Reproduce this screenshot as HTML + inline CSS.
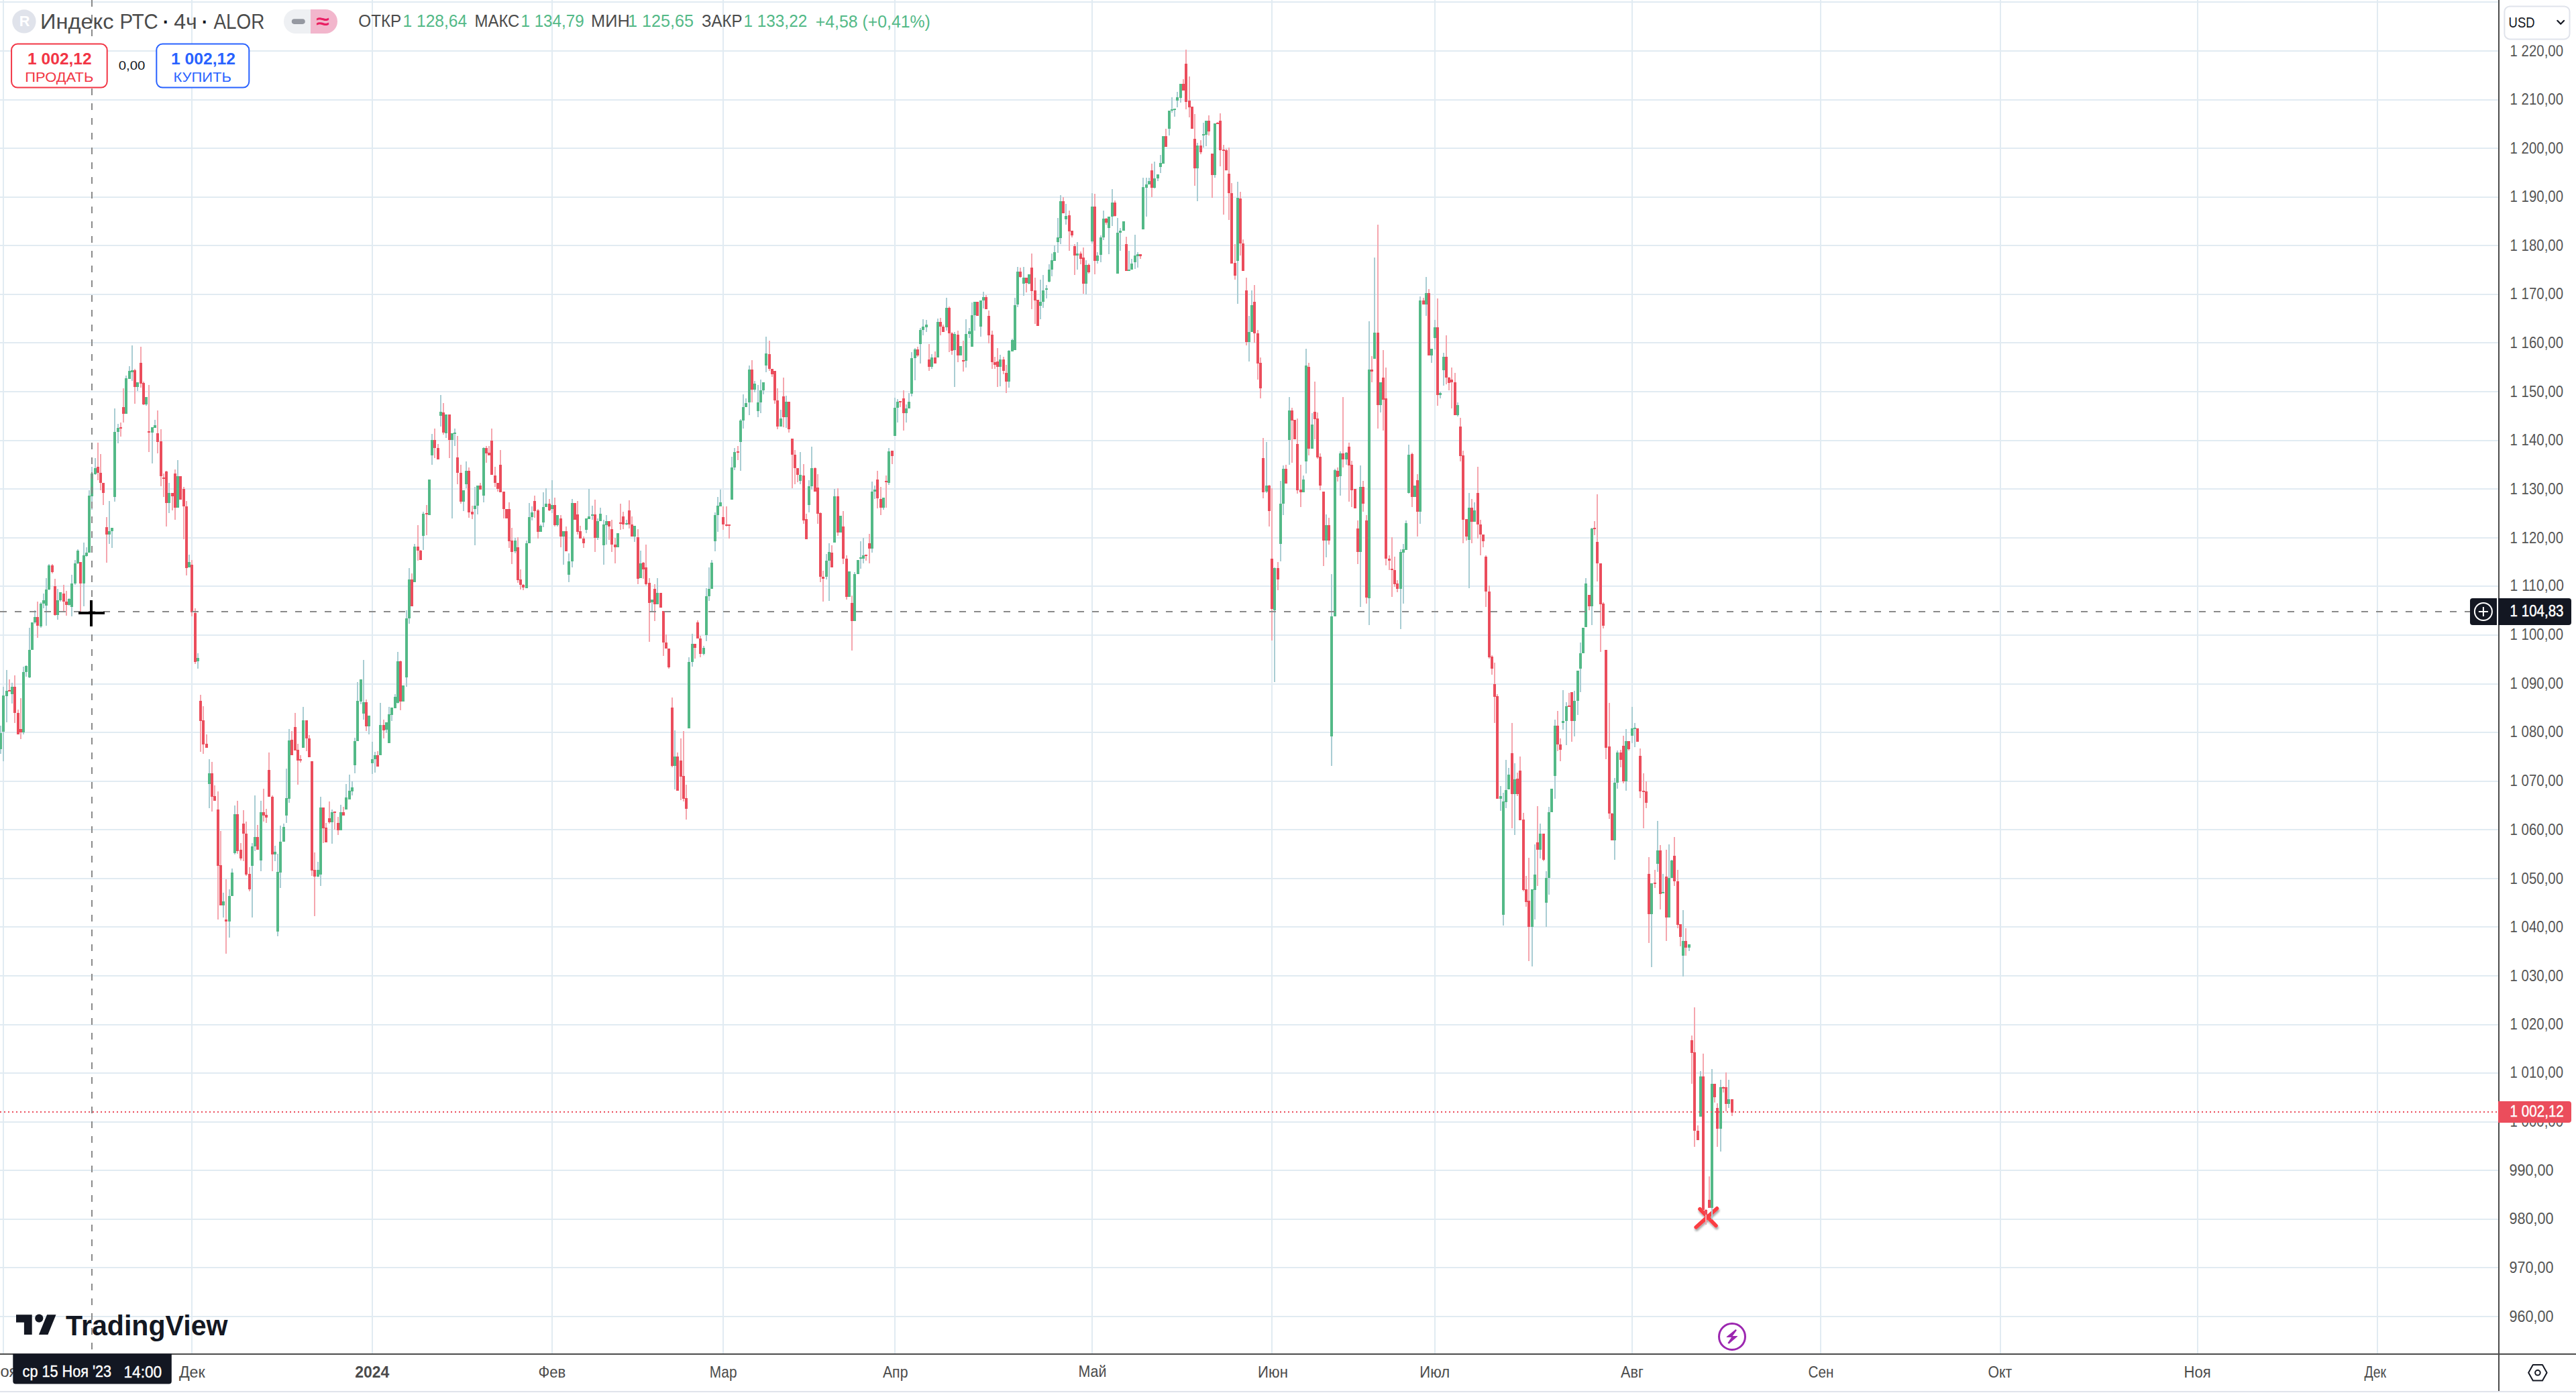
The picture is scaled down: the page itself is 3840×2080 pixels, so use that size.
<!DOCTYPE html>
<html><head><meta charset="utf-8"><style>
html,body{margin:0;padding:0;background:#fff;}
body{width:3840px;height:2080px;overflow:hidden;position:relative;}
svg{position:absolute;left:0;top:0;}
text{font-family:'Liberation Sans', Arial, sans-serif;}
</style></head><body>
<svg width="3840" height="2080" viewBox="0 0 3840 2080" shape-rendering="crispEdges">
<rect x="0" y="1962" width="3724" height="2" fill="#e1ebf2"/>
<rect x="0" y="1889" width="3724" height="2" fill="#e1ebf2"/>
<rect x="0" y="1817" width="3724" height="2" fill="#e1ebf2"/>
<rect x="0" y="1744" width="3724" height="2" fill="#e1ebf2"/>
<rect x="0" y="1672" width="3724" height="2" fill="#e1ebf2"/>
<rect x="0" y="1599" width="3724" height="2" fill="#e1ebf2"/>
<rect x="0" y="1527" width="3724" height="2" fill="#e1ebf2"/>
<rect x="0" y="1454" width="3724" height="2" fill="#e1ebf2"/>
<rect x="0" y="1381" width="3724" height="2" fill="#e1ebf2"/>
<rect x="0" y="1309" width="3724" height="2" fill="#e1ebf2"/>
<rect x="0" y="1236" width="3724" height="2" fill="#e1ebf2"/>
<rect x="0" y="1164" width="3724" height="2" fill="#e1ebf2"/>
<rect x="0" y="1091" width="3724" height="2" fill="#e1ebf2"/>
<rect x="0" y="1019" width="3724" height="2" fill="#e1ebf2"/>
<rect x="0" y="946" width="3724" height="2" fill="#e1ebf2"/>
<rect x="0" y="873" width="3724" height="2" fill="#e1ebf2"/>
<rect x="0" y="801" width="3724" height="2" fill="#e1ebf2"/>
<rect x="0" y="728" width="3724" height="2" fill="#e1ebf2"/>
<rect x="0" y="656" width="3724" height="2" fill="#e1ebf2"/>
<rect x="0" y="583" width="3724" height="2" fill="#e1ebf2"/>
<rect x="0" y="510" width="3724" height="2" fill="#e1ebf2"/>
<rect x="0" y="438" width="3724" height="2" fill="#e1ebf2"/>
<rect x="0" y="365" width="3724" height="2" fill="#e1ebf2"/>
<rect x="0" y="293" width="3724" height="2" fill="#e1ebf2"/>
<rect x="0" y="220" width="3724" height="2" fill="#e1ebf2"/>
<rect x="0" y="148" width="3724" height="2" fill="#e1ebf2"/>
<rect x="0" y="75" width="3724" height="2" fill="#e1ebf2"/>
<rect x="0" y="2" width="3724" height="2" fill="#e1ebf2"/>
<rect x="4" y="0" width="2" height="2018" fill="#e1ebf2"/>
<rect x="285" y="0" width="2" height="2018" fill="#e1ebf2"/>
<rect x="554" y="0" width="2" height="2018" fill="#e1ebf2"/>
<rect x="822" y="0" width="2" height="2018" fill="#e1ebf2"/>
<rect x="1077" y="0" width="2" height="2018" fill="#e1ebf2"/>
<rect x="1333" y="0" width="2" height="2018" fill="#e1ebf2"/>
<rect x="1627" y="0" width="2" height="2018" fill="#e1ebf2"/>
<rect x="1895" y="0" width="2" height="2018" fill="#e1ebf2"/>
<rect x="2138" y="0" width="2" height="2018" fill="#e1ebf2"/>
<rect x="2432" y="0" width="2" height="2018" fill="#e1ebf2"/>
<rect x="2713" y="0" width="2" height="2018" fill="#e1ebf2"/>
<rect x="2981" y="0" width="2" height="2018" fill="#e1ebf2"/>
<rect x="3275" y="0" width="2" height="2018" fill="#e1ebf2"/>
<rect x="3543" y="0" width="2" height="2018" fill="#e1ebf2"/>
<defs><filter id="xs" x="-50%" y="-50%" width="200%" height="200%"><feDropShadow dx="1" dy="3" stdDeviation="1.8" flood-color="#000" flood-opacity="0.35"/></filter></defs>
<g shape-rendering="auto" stroke-linecap="round" stroke-width="5.6" fill="none" stroke="#fb3c43" filter="url(#xs)"><line x1="2528.2" y1="1829.8" x2="2559.4" y2="1801.8"/><line x1="2534" y1="1802.7" x2="2558" y2="1827.6"/></g>
<path fill="#a9cdd3" d="M0 1082h2v42h-2zM4 1024h2v111h-2zM9 999h2v78h-2zM17 1018h2v31h-2zM34 994h2v101h-2zM38 992h2v17h-2zM43 936h2v75h-2zM47 928h2v41h-2zM51 910h2v20h-2zM60 898h2v38h-2zM64 885h2v22h-2zM68 862h2v71h-2zM72 841h2v39h-2zM85 878h2v46h-2zM89 883h2v14h-2zM102 892h2v11h-2zM106 857h2v62h-2zM111 835h2v37h-2zM115 819h2v22h-2zM124 809h2v95h-2zM128 816h2v14h-2zM132 731h2v93h-2zM136 696h2v64h-2zM141 683h2v25h-2zM162 747h2v64h-2zM166 787h2v30h-2zM170 609h2v139h-2zM175 632h2v29h-2zM187 560h2v57h-2zM192 546h2v19h-2zM196 515h2v53h-2zM204 570h2v13h-2zM217 592h2v13h-2zM226 637h2v54h-2zM230 626h2v12h-2zM251 720h2v45h-2zM264 686h2v71h-2zM281 827h2v19h-2zM294 974h2v23h-2zM311 1132h2v73h-2zM332 1331h2v37h-2zM341 1326h2v72h-2zM345 1295h2v41h-2zM349 1201h2v73h-2zM375 1257h2v111h-2zM379 1186h2v83h-2zM388 1194h2v105h-2zM409 1261h2v23h-2zM413 1273h2v123h-2zM417 1231h2v93h-2zM422 1228h2v27h-2zM426 1146h2v81h-2zM430 1087h2v110h-2zM451 1054h2v61h-2zM473 1285h2v23h-2zM477 1188h2v133h-2zM494 1207h2v51h-2zM507 1200h2v38h-2zM515 1169h2v38h-2zM520 1155h2v37h-2zM524 1165h2v21h-2zM528 1100h2v53h-2zM532 1017h2v88h-2zM537 1013h2v37h-2zM541 984h2v89h-2zM549 1067h2v28h-2zM554 1106h2v48h-2zM558 1121h2v31h-2zM566 1048h2v78h-2zM575 1077h2v16h-2zM579 1054h2v54h-2zM583 1055h2v20h-2zM588 1035h2v21h-2zM592 972h2v77h-2zM600 1022h2v24h-2zM605 910h2v114h-2zM609 847h2v83h-2zM617 811h2v57h-2zM630 763h2v57h-2zM639 715h2v53h-2zM643 647h2v46h-2zM656 589h2v47h-2zM664 618h2v35h-2zM673 646h2v127h-2zM677 639h2v26h-2zM690 731h2v31h-2zM694 688h2v40h-2zM707 726h2v87h-2zM711 724h2v43h-2zM720 667h2v82h-2zM767 802h2v23h-2zM784 806h2v71h-2zM788 750h2v60h-2zM792 755h2v21h-2zM805 782h2v11h-2zM809 734h2v52h-2zM813 728h2v28h-2zM822 716h2v49h-2zM830 768h2v17h-2zM839 792h2v50h-2zM847 825h2v43h-2zM852 744h2v102h-2zM873 773h2v22h-2zM877 729h2v45h-2zM882 754h2v21h-2zM890 773h2v32h-2zM894 757h2v20h-2zM899 775h2v67h-2zM903 768h2v44h-2zM920 795h2v21h-2zM933 775h2v8h-2zM945 784h2v24h-2zM954 821h2v41h-2zM971 894h2v17h-2zM979 862h2v39h-2zM1005 1089h2v88h-2zM1026 980h2v106h-2zM1031 945h2v49h-2zM1048 963h2v14h-2zM1052 877h2v79h-2zM1056 846h2v50h-2zM1060 835h2v43h-2zM1065 764h2v58h-2zM1069 741h2v52h-2zM1073 730h2v25h-2zM1090 681h2v64h-2zM1094 668h2v33h-2zM1103 625h2v77h-2zM1107 588h2v51h-2zM1111 594h2v13h-2zM1116 545h2v74h-2zM1124 568h2v17h-2zM1129 574h2v48h-2zM1133 566h2v50h-2zM1137 570h2v18h-2zM1141 502h2v53h-2zM1163 611h2v25h-2zM1171 590h2v48h-2zM1192 674h2v48h-2zM1205 716h2v48h-2zM1209 666h2v64h-2zM1231 826h2v38h-2zM1235 810h2v86h-2zM1243 729h2v80h-2zM1252 769h2v25h-2zM1265 852h2v38h-2zM1273 853h2v73h-2zM1278 835h2v21h-2zM1282 807h2v41h-2zM1286 802h2v38h-2zM1299 718h2v106h-2zM1303 724h2v20h-2zM1316 742h2v18h-2zM1324 668h2v55h-2zM1333 593h2v57h-2zM1337 595h2v35h-2zM1350 603h2v27h-2zM1354 586h2v23h-2zM1358 525h2v66h-2zM1363 519h2v48h-2zM1371 489h2v53h-2zM1375 476h2v24h-2zM1380 477h2v18h-2zM1388 528h2v22h-2zM1397 475h2v58h-2zM1410 444h2v49h-2zM1422 495h2v82h-2zM1431 516h2v14h-2zM1439 476h2v72h-2zM1444 489h2v15h-2zM1448 451h2v66h-2zM1452 450h2v43h-2zM1461 448h2v54h-2zM1465 435h2v25h-2zM1490 529h2v47h-2zM1503 522h2v56h-2zM1508 505h2v19h-2zM1512 444h2v78h-2zM1516 398h2v60h-2zM1525 398h2v43h-2zM1533 409h2v15h-2zM1550 417h2v59h-2zM1554 410h2v49h-2zM1559 425h2v20h-2zM1563 394h2v27h-2zM1567 378h2v34h-2zM1571 366h2v23h-2zM1576 325h2v52h-2zM1580 291h2v73h-2zM1588 304h2v31h-2zM1605 361h2v41h-2zM1618 388h2v51h-2zM1627 288h2v75h-2zM1635 376h2v17h-2zM1640 351h2v40h-2zM1644 314h2v44h-2zM1652 323h2v56h-2zM1657 282h2v55h-2zM1665 325h2v83h-2zM1669 340h2v34h-2zM1674 330h2v14h-2zM1682 374h2v30h-2zM1686 386h2v16h-2zM1691 350h2v51h-2zM1695 376h2v23h-2zM1703 265h2v77h-2zM1708 265h2v58h-2zM1712 265h2v10h-2zM1720 241h2v40h-2zM1725 260h2v10h-2zM1729 231h2v27h-2zM1733 203h2v41h-2zM1742 165h2v37h-2zM1746 145h2v23h-2zM1750 162h2v12h-2zM1754 137h2v23h-2zM1759 125h2v28h-2zM1784 213h2v87h-2zM1793 183h2v37h-2zM1797 180h2v38h-2zM1810 184h2v81h-2zM1844 271h2v182h-2zM1861 471h2v68h-2zM1865 433h2v62h-2zM1887 659h2v76h-2zM1899 846h2v171h-2zM1908 717h2v120h-2zM1912 694h2v74h-2zM1921 592h2v101h-2zM1942 709h2v25h-2zM1946 520h2v186h-2zM1955 616h2v53h-2zM1976 767h2v64h-2zM1984 856h2v286h-2zM1989 699h2v220h-2zM1997 673h2v66h-2zM2006 674h2v19h-2zM2027 694h2v211h-2zM2040 479h2v453h-2zM2048 384h2v151h-2zM2057 570h2v45h-2zM2087 819h2v119h-2zM2091 811h2v89h-2zM2095 776h2v44h-2zM2099 663h2v73h-2zM2108 724h2v17h-2zM2116 442h2v339h-2zM2125 413h2v58h-2zM2133 520h2v21h-2zM2138 477h2v44h-2zM2146 584h2v10h-2zM2151 526h2v49h-2zM2172 600h2v21h-2zM2189 735h2v142h-2zM2197 749h2v29h-2zM2236 1172h2v37h-2zM2240 1182h2v198h-2zM2244 1133h2v72h-2zM2248 1145h2v32h-2zM2257 1138h2v107h-2zM2283 1326h2v115h-2zM2287 1259h2v112h-2zM2295 1228h2v52h-2zM2304 1299h2v83h-2zM2308 1203h2v131h-2zM2312 1176h2v35h-2zM2317 1073h2v118h-2zM2329 1029h2v59h-2zM2334 1047h2v64h-2zM2346 1030h2v68h-2zM2351 1000h2v66h-2zM2355 958h2v74h-2zM2359 936h2v38h-2zM2363 862h2v73h-2zM2372 787h2v145h-2zM2406 1160h2v122h-2zM2410 1119h2v57h-2zM2423 1087h2v92h-2zM2432 1054h2v54h-2zM2436 1078h2v36h-2zM2461 1317h2v125h-2zM2470 1224h2v76h-2zM2478 1303h2v29h-2zM2487 1259h2v109h-2zM2491 1282h2v27h-2zM2508 1357h2v99h-2zM2517 1408h2v10h-2zM2534 1597h2v68h-2zM2551 1594h2v224h-2zM2564 1610h2v107h-2zM2576 1610h2v42h-2z"/>
<path fill="#f5a6ae" d="M13 1013h2v18h-2zM21 1007h2v71h-2zM26 1058h2v37h-2zM30 1041h2v61h-2zM55 897h2v54h-2zM77 841h2v14h-2zM81 863h2v55h-2zM94 872h2v40h-2zM98 881h2v37h-2zM119 838h2v75h-2zM145 660h2v56h-2zM149 677h2v54h-2zM153 720h2v33h-2zM158 771h2v68h-2zM179 630h2v21h-2zM183 579h2v51h-2zM200 550h2v52h-2zM209 517h2v61h-2zM213 569h2v35h-2zM221 574h2v100h-2zM234 612h2v64h-2zM239 640h2v85h-2zM243 706h2v35h-2zM247 702h2v83h-2zM256 735h2v26h-2zM260 700h2v75h-2zM268 710h2v35h-2zM273 726h2v78h-2zM277 747h2v111h-2zM285 835h2v84h-2zM290 907h2v83h-2zM298 1036h2v85h-2zM302 1053h2v71h-2zM307 1095h2v20h-2zM315 1136h2v74h-2zM319 1171h2v23h-2zM324 1180h2v191h-2zM328 1239h2v111h-2zM336 1311h2v111h-2zM353 1194h2v79h-2zM358 1257h2v26h-2zM362 1208h2v76h-2zM366 1225h2v81h-2zM371 1293h2v36h-2zM383 1230h2v37h-2zM392 1176h2v49h-2zM396 1206h2v21h-2zM400 1122h2v66h-2zM405 1186h2v113h-2zM434 1090h2v36h-2zM439 1063h2v56h-2zM443 1109h2v61h-2zM447 1126h2v11h-2zM456 1074h2v46h-2zM460 1096h2v33h-2zM464 1135h2v171h-2zM468 1271h2v95h-2zM481 1204h2v53h-2zM485 1227h2v29h-2zM490 1195h2v33h-2zM498 1210h2v27h-2zM503 1218h2v27h-2zM511 1203h2v13h-2zM545 1043h2v47h-2zM562 1120h2v23h-2zM571 1073h2v28h-2zM596 985h2v74h-2zM613 855h2v49h-2zM622 783h2v53h-2zM626 820h2v15h-2zM635 753h2v45h-2zM647 639h2v44h-2zM652 662h2v23h-2zM660 601h2v47h-2zM669 618h2v65h-2zM681 650h2v72h-2zM686 693h2v58h-2zM698 697h2v75h-2zM703 754h2v20h-2zM715 720h2v10h-2zM724 665h2v25h-2zM728 665h2v14h-2zM732 639h2v69h-2zM737 696h2v30h-2zM741 720h2v13h-2zM745 671h2v63h-2zM750 733h2v40h-2zM754 759h2v14h-2zM758 749h2v68h-2zM762 787h2v54h-2zM771 801h2v68h-2zM775 849h2v30h-2zM779 871h2v9h-2zM796 739h2v33h-2zM801 759h2v44h-2zM818 744h2v18h-2zM826 742h2v43h-2zM835 768h2v48h-2zM843 785h2v37h-2zM856 750h2v25h-2zM860 747h2v50h-2zM864 784h2v19h-2zM869 800h2v17h-2zM886 745h2v78h-2zM907 777h2v28h-2zM911 775h2v48h-2zM916 802h2v38h-2zM924 751h2v39h-2zM928 763h2v26h-2zM937 746h2v42h-2zM941 770h2v30h-2zM950 789h2v82h-2zM958 838h2v25h-2zM962 812h2v61h-2zM967 862h2v95h-2zM975 871h2v55h-2zM984 884h2v22h-2zM988 911h2v67h-2zM992 946h2v21h-2zM996 967h2v30h-2zM1001 1040h2v104h-2zM1009 1122h2v57h-2zM1014 1101h2v92h-2zM1018 1090h2v105h-2zM1022 1170h2v52h-2zM1035 960h2v22h-2zM1039 925h2v27h-2zM1043 948h2v32h-2zM1077 755h2v35h-2zM1082 755h2v30h-2zM1086 782h2v21h-2zM1099 665h2v21h-2zM1120 537h2v63h-2zM1146 508h2v45h-2zM1150 550h2v12h-2zM1154 553h2v49h-2zM1158 579h2v61h-2zM1167 563h2v74h-2zM1175 599h2v46h-2zM1180 654h2v74h-2zM1184 671h2v51h-2zM1188 698h2v21h-2zM1197 692h2v89h-2zM1201 766h2v38h-2zM1214 697h2v36h-2zM1218 707h2v74h-2zM1222 764h2v104h-2zM1226 851h2v46h-2zM1239 813h2v33h-2zM1248 728h2v71h-2zM1256 762h2v79h-2zM1261 828h2v66h-2zM1269 888h2v82h-2zM1290 828h2v8h-2zM1295 796h2v44h-2zM1307 702h2v56h-2zM1312 726h2v42h-2zM1320 709h2v48h-2zM1329 672h2v20h-2zM1341 598h2v9h-2zM1346 582h2v60h-2zM1367 517h2v15h-2zM1384 513h2v40h-2zM1393 524h2v18h-2zM1401 474h2v26h-2zM1405 484h2v11h-2zM1414 457h2v68h-2zM1418 495h2v34h-2zM1427 493h2v47h-2zM1435 508h2v46h-2zM1456 450h2v21h-2zM1469 440h2v21h-2zM1473 463h2v49h-2zM1478 493h2v57h-2zM1482 532h2v18h-2zM1486 519h2v58h-2zM1495 532h2v26h-2zM1499 544h2v42h-2zM1520 399h2v15h-2zM1529 414h2v22h-2zM1537 378h2v83h-2zM1542 414h2v69h-2zM1546 447h2v39h-2zM1584 294h2v24h-2zM1593 314h2v60h-2zM1597 344h2v10h-2zM1601 364h2v46h-2zM1610 375h2v19h-2zM1614 369h2v69h-2zM1622 393h2v15h-2zM1631 289h2v120h-2zM1648 325h2v10h-2zM1661 299h2v24h-2zM1678 353h2v51h-2zM1699 379h2v7h-2zM1716 244h2v50h-2zM1737 192h2v27h-2zM1763 118h2v17h-2zM1767 74h2v89h-2zM1772 114h2v61h-2zM1776 159h2v33h-2zM1780 170h2v107h-2zM1789 209h2v21h-2zM1801 172h2v30h-2zM1806 229h2v66h-2zM1814 182h2v3h-2zM1818 169h2v79h-2zM1823 216h2v104h-2zM1827 222h2v32h-2zM1831 220h2v108h-2zM1835 273h2v120h-2zM1840 364h2v53h-2zM1848 286h2v95h-2zM1852 357h2v47h-2zM1857 414h2v101h-2zM1869 425h2v86h-2zM1874 492h2v74h-2zM1878 533h2v61h-2zM1882 653h2v90h-2zM1891 723h2v62h-2zM1895 728h2v227h-2zM1904 838h2v42h-2zM1916 693h2v28h-2zM1925 608h2v82h-2zM1929 626h2v29h-2zM1933 624h2v112h-2zM1938 693h2v63h-2zM1950 541h2v138h-2zM1959 569h2v86h-2zM1963 615h2v69h-2zM1967 676h2v55h-2zM1972 733h2v111h-2zM1980 772h2v40h-2zM1993 697h2v21h-2zM2001 592h2v105h-2zM2010 660h2v88h-2zM2014 687h2v69h-2zM2019 729h2v29h-2zM2023 776h2v65h-2zM2031 717h2v46h-2zM2036 768h2v132h-2zM2044 531h2v39h-2zM2053 335h2v304h-2zM2061 522h2v120h-2zM2065 548h2v295h-2zM2070 828h2v22h-2zM2074 801h2v89h-2zM2078 830h2v45h-2zM2082 865h2v18h-2zM2104 675h2v81h-2zM2112 707h2v93h-2zM2121 444h2v10h-2zM2129 431h2v99h-2zM2142 445h2v160h-2zM2155 500h2v73h-2zM2159 562h2v20h-2zM2163 548h2v61h-2zM2168 556h2v63h-2zM2176 623h2v65h-2zM2180 672h2v138h-2zM2185 774h2v32h-2zM2193 744h2v66h-2zM2202 696h2v107h-2zM2206 775h2v53h-2zM2210 797h2v19h-2zM2214 828h2v77h-2zM2219 873h2v109h-2zM2223 977h2v29h-2zM2227 988h2v90h-2zM2231 1035h2v156h-2zM2253 1078h2v157h-2zM2261 1152h2v35h-2zM2265 1128h2v95h-2zM2270 1212h2v117h-2zM2274 1306h2v46h-2zM2278 1279h2v154h-2zM2291 1202h2v119h-2zM2300 1243h2v41h-2zM2321 1060h2v60h-2zM2325 1101h2v34h-2zM2338 1033h2v21h-2zM2342 1032h2v74h-2zM2368 887h2v23h-2zM2376 777h2v21h-2zM2380 737h2v130h-2zM2385 840h2v132h-2zM2389 898h2v39h-2zM2393 969h2v163h-2zM2398 1048h2v173h-2zM2402 1212h2v41h-2zM2415 1118h2v26h-2zM2419 1097h2v71h-2zM2427 1105h2v14h-2zM2440 1086h2v20h-2zM2444 1116h2v74h-2zM2449 1153h2v82h-2zM2453 1165h2v40h-2zM2457 1278h2v128h-2zM2466 1297h2v27h-2zM2474 1260h2v96h-2zM2483 1267h2v136h-2zM2495 1248h2v73h-2zM2500 1297h2v87h-2zM2504 1378h2v33h-2zM2512 1384h2v41h-2zM2521 1544h2v72h-2zM2525 1502h2v208h-2zM2530 1678h2v22h-2zM2538 1571h2v233h-2zM2542 1803h2v23h-2zM2547 1754h2v47h-2zM2555 1616h2v28h-2zM2559 1645h2v65h-2zM2568 1620h2v9h-2zM2572 1599h2v58h-2zM2581 1639h2v25h-2z"/>
<path fill="#53b987" d="M-1 1093h4v24h-4zM3 1037h4v54h-4zM8 1030h4v8h-4zM16 1024h4v11h-4zM33 1002h4v90h-4zM37 993h4v9h-4zM42 969h4v41h-4zM46 928h4v41h-4zM50 920h4v8h-4zM59 900h4v34h-4zM63 895h4v5h-4zM67 879h4v24h-4zM71 843h4v36h-4zM84 895h4v22h-4zM88 883h4v12h-4zM101 893h4v9h-4zM105 870h4v35h-4zM110 840h4v30h-4zM114 821h4v19h-4zM123 828h4v42h-4zM127 824h4v5h-4zM131 739h4v85h-4zM135 706h4v34h-4zM140 698h4v9h-4zM161 792h4v5h-4zM165 787h4v5h-4zM169 644h4v97h-4zM174 638h4v6h-4zM186 564h4v53h-4zM191 553h4v12h-4zM195 552h4v3h-4zM203 570h4v7h-4zM216 592h4v11h-4zM225 637h4v8h-4zM229 634h4v4h-4zM250 735h4v15h-4zM263 710h4v47h-4zM280 838h4v8h-4zM293 981h4v5h-4zM310 1153h4v16h-4zM331 1344h4v6h-4zM340 1336h4v38h-4zM344 1301h4v35h-4zM348 1214h4v58h-4zM374 1262h4v29h-4zM378 1248h4v14h-4zM387 1211h4v72h-4zM408 1270h4v4h-4zM412 1300h4v89h-4zM416 1255h4v46h-4zM421 1233h4v22h-4zM425 1190h4v26h-4zM429 1104h4v87h-4zM450 1074h4v41h-4zM472 1297h4v10h-4zM476 1204h4v100h-4zM493 1211h4v15h-4zM506 1211h4v27h-4zM514 1189h4v18h-4zM519 1179h4v13h-4zM523 1174h4v6h-4zM527 1105h4v36h-4zM531 1045h4v60h-4zM536 1013h4v33h-4zM540 1047h4v17h-4zM548 1067h4v16h-4zM553 1132h4v6h-4zM557 1126h4v6h-4zM565 1081h4v45h-4zM574 1077h4v11h-4zM578 1065h4v43h-4zM582 1055h4v11h-4zM587 1039h4v17h-4zM591 986h4v62h-4zM599 1022h4v24h-4zM604 922h4v88h-4zM608 864h4v58h-4zM616 815h4v53h-4zM629 766h4v33h-4zM638 715h4v53h-4zM642 656h4v23h-4zM655 614h4v6h-4zM663 618h4v28h-4zM672 646h4v10h-4zM676 645h4v2h-4zM689 731h4v17h-4zM693 702h4v20h-4zM706 754h4v5h-4zM710 724h4v30h-4zM719 668h4v71h-4zM766 806h4v16h-4zM783 810h4v67h-4zM787 771h4v39h-4zM791 764h4v7h-4zM804 784h4v9h-4zM808 756h4v23h-4zM812 751h4v5h-4zM821 753h4v6h-4zM829 768h4v15h-4zM838 792h4v8h-4zM846 837h4v20h-4zM851 750h4v87h-4zM872 773h4v17h-4zM876 770h4v4h-4zM881 767h4v2h-4zM889 777h4v25h-4zM893 766h4v11h-4zM898 782h4v31h-4zM902 777h4v6h-4zM919 795h4v21h-4zM932 780h4v2h-4zM944 784h4v16h-4zM953 840h4v22h-4zM970 894h4v4h-4zM978 884h4v17h-4zM1004 1128h4v14h-4zM1025 987h4v99h-4zM1030 960h4v27h-4zM1047 966h4v9h-4zM1051 889h4v58h-4zM1055 878h4v11h-4zM1059 839h4v39h-4zM1064 768h4v39h-4zM1068 754h4v14h-4zM1072 749h4v6h-4zM1089 697h4v48h-4zM1093 674h4v23h-4zM1102 627h4v32h-4zM1106 607h4v20h-4zM1110 601h4v6h-4zM1115 551h4v49h-4zM1123 572h4v9h-4zM1128 600h4v13h-4zM1132 582h4v18h-4zM1136 570h4v12h-4zM1140 527h4v18h-4zM1162 624h4v12h-4zM1170 599h4v23h-4zM1191 708h4v9h-4zM1204 725h4v28h-4zM1208 698h4v27h-4zM1230 836h4v24h-4zM1234 823h4v13h-4zM1242 740h4v69h-4zM1251 769h4v25h-4zM1264 852h4v38h-4zM1272 856h4v70h-4zM1277 835h4v21h-4zM1281 831h4v2h-4zM1285 828h4v5h-4zM1298 733h4v85h-4zM1302 730h4v3h-4zM1315 742h4v15h-4zM1323 673h4v47h-4zM1332 608h4v42h-4zM1336 599h4v9h-4zM1349 609h4v7h-4zM1353 599h4v10h-4zM1357 534h4v53h-4zM1362 521h4v13h-4zM1370 492h4v21h-4zM1374 487h4v5h-4zM1379 484h4v4h-4zM1387 533h4v14h-4zM1396 480h4v53h-4zM1409 459h4v29h-4zM1421 498h4v24h-4zM1430 516h4v14h-4zM1438 498h4v40h-4zM1443 494h4v4h-4zM1447 470h4v47h-4zM1451 450h4v20h-4zM1460 448h4v39h-4zM1464 443h4v5h-4zM1489 536h4v11h-4zM1502 523h4v46h-4zM1507 507h4v17h-4zM1511 455h4v67h-4zM1515 405h4v49h-4zM1524 414h4v9h-4zM1532 409h4v14h-4zM1549 450h4v6h-4zM1553 433h4v17h-4zM1558 430h4v2h-4zM1562 402h4v18h-4zM1566 388h4v14h-4zM1570 376h4v13h-4zM1575 354h4v7h-4zM1579 300h4v55h-4zM1587 322h4v5h-4zM1604 378h4v3h-4zM1617 395h4v28h-4zM1626 308h4v52h-4zM1634 381h4v8h-4zM1639 354h4v26h-4zM1643 326h4v28h-4zM1651 323h4v17h-4zM1656 302h4v21h-4zM1664 347h4v61h-4zM1668 344h4v3h-4zM1673 330h4v14h-4zM1681 402h4v2h-4zM1685 393h4v9h-4zM1690 381h4v10h-4zM1694 379h4v3h-4zM1702 279h4v63h-4zM1707 275h4v5h-4zM1711 270h4v5h-4zM1719 266h4v14h-4zM1724 260h4v6h-4zM1728 243h4v6h-4zM1732 203h4v41h-4zM1741 165h4v27h-4zM1745 163h4v2h-4zM1749 162h4v2h-4zM1753 145h4v5h-4zM1758 125h4v21h-4zM1783 217h4v34h-4zM1792 200h4v2h-4zM1796 180h4v21h-4zM1809 184h4v77h-4zM1843 295h4v94h-4zM1860 495h4v15h-4zM1864 455h4v40h-4zM1886 724h4v9h-4zM1898 847h4v63h-4zM1907 751h4v60h-4zM1911 699h4v52h-4zM1920 612h4v44h-4zM1941 715h4v19h-4zM1945 545h4v143h-4zM1954 633h4v36h-4zM1975 783h4v23h-4zM1983 919h4v179h-4zM1988 701h4v218h-4zM1996 676h4v34h-4zM2005 675h4v10h-4zM2026 726h4v97h-4zM2039 551h4v341h-4zM2047 496h4v39h-4zM2056 570h4v34h-4zM2086 823h4v55h-4zM2090 819h4v5h-4zM2094 780h4v40h-4zM2098 678h4v57h-4zM2107 724h4v17h-4zM2115 448h4v315h-4zM2124 437h4v17h-4zM2132 520h4v10h-4zM2137 488h4v16h-4zM2145 586h4v3h-4zM2150 532h4v20h-4zM2171 604h4v15h-4zM2188 757h4v48h-4zM2196 761h4v17h-4zM2235 1187h4v4h-4zM2239 1195h4v169h-4zM2243 1178h4v18h-4zM2247 1155h4v22h-4zM2256 1162h4v22h-4zM2282 1326h4v56h-4zM2286 1304h4v23h-4zM2294 1243h4v24h-4zM2303 1309h4v37h-4zM2307 1211h4v98h-4zM2311 1176h4v35h-4zM2316 1082h4v75h-4zM2328 1075h4v3h-4zM2333 1053h4v22h-4zM2345 1045h4v30h-4zM2350 1000h4v45h-4zM2354 974h4v23h-4zM2358 936h4v38h-4zM2362 870h4v65h-4zM2371 788h4v116h-4zM2405 1167h4v86h-4zM2409 1122h4v45h-4zM2422 1105h4v60h-4zM2431 1086h4v11h-4zM2435 1085h4v2h-4zM2460 1317h4v46h-4zM2469 1268h4v20h-4zM2477 1330h4v2h-4zM2486 1309h4v59h-4zM2490 1283h4v26h-4zM2507 1403h4v22h-4zM2516 1408h4v5h-4zM2533 1605h4v60h-4zM2550 1616h4v185h-4zM2563 1621h4v62h-4zM2575 1639h4v7h-4z"/>
<path fill="#eb4d5c" d="M12 1029h4v2h-4zM20 1024h4v39h-4zM25 1063h4v32h-4zM29 1087h4v5h-4zM54 920h4v13h-4zM76 843h4v10h-4zM80 874h4v43h-4zM93 885h4v12h-4zM97 897h4v5h-4zM118 838h4v32h-4zM144 696h4v9h-4zM148 705h4v15h-4zM152 720h4v15h-4zM157 786h4v11h-4zM178 637h4v2h-4zM182 607h4v10h-4zM199 552h4v25h-4zM208 541h4v31h-4zM212 571h4v32h-4zM220 643h4v2h-4zM233 646h4v13h-4zM238 658h4v52h-4zM242 712h4v2h-4zM246 703h4v47h-4zM255 735h4v5h-4zM259 706h4v51h-4zM267 710h4v35h-4zM272 729h4v26h-4zM276 755h4v92h-4zM284 842h4v71h-4zM289 914h4v73h-4zM297 1045h4v30h-4zM301 1074h4v36h-4zM306 1109h4v6h-4zM314 1153h4v35h-4zM318 1187h4v7h-4zM323 1207h4v84h-4zM327 1290h4v60h-4zM335 1371h4v3h-4zM352 1214h4v55h-4zM357 1267h4v13h-4zM361 1228h4v15h-4zM365 1243h4v61h-4zM370 1303h4v23h-4zM382 1248h4v19h-4zM391 1211h4v5h-4zM395 1215h4v4h-4zM399 1148h4v40h-4zM404 1188h4v86h-4zM433 1103h4v23h-4zM438 1084h4v35h-4zM442 1118h4v16h-4zM446 1132h4v2h-4zM455 1074h4v27h-4zM459 1101h4v28h-4zM463 1135h4v163h-4zM467 1297h4v10h-4zM480 1204h4v31h-4zM484 1234h4v22h-4zM489 1220h4v6h-4zM497 1210h4v2h-4zM502 1227h4v11h-4zM510 1211h4v5h-4zM544 1047h4v36h-4zM561 1126h4v17h-4zM570 1081h4v8h-4zM595 986h4v60h-4zM612 864h4v40h-4zM621 815h4v6h-4zM625 821h4v14h-4zM634 765h4v2h-4zM646 656h4v12h-4zM651 668h4v17h-4zM659 615h4v30h-4zM668 618h4v38h-4zM680 682h4v23h-4zM685 705h4v43h-4zM697 702h4v62h-4zM702 763h4v4h-4zM714 724h4v6h-4zM723 668h4v8h-4zM727 675h4v4h-4zM731 657h4v51h-4zM736 709h4v11h-4zM740 720h4v9h-4zM744 693h4v41h-4zM749 733h4v26h-4zM753 759h4v14h-4zM757 759h4v48h-4zM761 806h4v17h-4zM770 816h4v49h-4zM774 864h4v8h-4zM778 872h4v4h-4zM795 747h4v15h-4zM800 761h4v32h-4zM817 751h4v10h-4zM825 753h4v30h-4zM834 773h4v27h-4zM842 792h4v30h-4zM855 750h4v25h-4zM859 767h4v26h-4zM863 792h4v11h-4zM868 803h4v7h-4zM885 767h4v35h-4zM906 777h4v8h-4zM910 789h4v23h-4zM915 812h4v4h-4zM923 779h4v2h-4zM927 770h4v12h-4zM936 761h4v21h-4zM940 782h4v18h-4zM949 801h4v62h-4zM957 839h4v10h-4zM961 846h4v25h-4zM966 869h4v30h-4zM974 878h4v23h-4zM983 884h4v22h-4zM987 911h4v47h-4zM991 958h4v9h-4zM995 967h4v28h-4zM1000 1055h4v87h-4zM1008 1128h4v51h-4zM1013 1134h4v24h-4zM1017 1157h4v34h-4zM1021 1190h4v16h-4zM1034 960h4v6h-4zM1038 928h4v24h-4zM1042 952h4v23h-4zM1076 771h4v11h-4zM1081 782h4v2h-4zM1085 782h4v2h-4zM1098 673h4v2h-4zM1119 551h4v30h-4zM1145 528h4v22h-4zM1149 550h4v8h-4zM1153 553h4v44h-4zM1157 597h4v39h-4zM1166 591h4v31h-4zM1174 599h4v41h-4zM1179 654h4v24h-4zM1183 678h4v20h-4zM1187 698h4v10h-4zM1196 709h4v67h-4zM1200 774h4v30h-4zM1213 698h4v35h-4zM1217 727h4v39h-4zM1221 765h4v95h-4zM1225 860h4v3h-4zM1238 824h4v22h-4zM1247 740h4v54h-4zM1255 785h4v48h-4zM1260 833h4v57h-4zM1268 899h4v27h-4zM1289 827h4v2h-4zM1294 810h4v8h-4zM1306 715h4v28h-4zM1311 744h4v13h-4zM1319 717h4v2h-4zM1328 672h4v8h-4zM1340 598h4v2h-4zM1345 594h4v22h-4zM1366 521h4v9h-4zM1383 536h4v11h-4zM1392 533h4v9h-4zM1400 480h4v7h-4zM1404 487h4v8h-4zM1413 459h4v38h-4zM1417 497h4v26h-4zM1426 499h4v31h-4zM1434 537h4v2h-4zM1455 450h4v21h-4zM1468 443h4v18h-4zM1472 471h4v29h-4zM1477 499h4v41h-4zM1481 540h4v4h-4zM1485 539h4v8h-4zM1494 536h4v17h-4zM1498 556h4v13h-4zM1519 405h4v8h-4zM1528 414h4v8h-4zM1536 399h4v35h-4zM1541 433h4v15h-4zM1545 447h4v39h-4zM1583 300h4v18h-4zM1592 321h4v24h-4zM1596 344h4v7h-4zM1600 367h4v14h-4zM1609 378h4v8h-4zM1613 384h4v39h-4zM1621 395h4v11h-4zM1630 308h4v81h-4zM1647 326h4v6h-4zM1660 302h4v20h-4zM1677 364h4v40h-4zM1698 379h4v3h-4zM1715 254h4v26h-4zM1736 203h4v16h-4zM1762 125h4v10h-4zM1766 95h4v57h-4zM1771 150h4v10h-4zM1775 159h4v33h-4zM1779 207h4v44h-4zM1788 217h4v10h-4zM1800 180h4v16h-4zM1805 229h4v32h-4zM1813 183h4v2h-4zM1817 180h4v44h-4zM1822 223h4v2h-4zM1826 224h4v30h-4zM1830 259h4v29h-4zM1834 288h4v105h-4zM1839 392h4v19h-4zM1847 296h4v67h-4zM1851 363h4v41h-4zM1856 433h4v77h-4zM1868 450h4v47h-4zM1873 497h4v45h-4zM1877 541h4v38h-4zM1881 683h4v51h-4zM1890 724h4v38h-4zM1894 833h4v75h-4zM1903 847h4v17h-4zM1915 699h4v22h-4zM1924 612h4v15h-4zM1928 626h4v29h-4zM1932 662h4v69h-4zM1937 730h4v4h-4zM1949 547h4v122h-4zM1958 614h4v11h-4zM1962 624h4v58h-4zM1966 681h4v43h-4zM1971 733h4v73h-4zM1979 783h4v23h-4zM1992 702h4v9h-4zM2000 676h4v9h-4zM2009 666h4v28h-4zM2013 693h4v38h-4zM2018 729h4v29h-4zM2022 788h4v35h-4zM2030 726h4v25h-4zM2035 776h4v115h-4zM2043 551h4v3h-4zM2052 496h4v108h-4zM2060 563h4v33h-4zM2064 594h4v239h-4zM2069 833h4v3h-4zM2073 848h4v2h-4zM2077 850h4v21h-4zM2081 870h4v8h-4zM2103 677h4v64h-4zM2111 716h4v47h-4zM2120 448h4v6h-4zM2128 437h4v93h-4zM2141 488h4v101h-4zM2154 532h4v31h-4zM2158 563h4v8h-4zM2162 566h4v4h-4zM2167 570h4v49h-4zM2175 636h4v44h-4zM2179 679h4v96h-4zM2184 774h4v26h-4zM2192 757h4v21h-4zM2201 735h4v47h-4zM2205 782h4v15h-4zM2209 797h4v10h-4zM2213 830h4v52h-4zM2218 882h4v98h-4zM2222 979h4v18h-4zM2226 1020h4v19h-4zM2230 1038h4v153h-4zM2252 1123h4v61h-4zM2260 1161h4v23h-4zM2264 1149h4v74h-4zM2269 1222h4v105h-4zM2273 1326h4v19h-4zM2277 1343h4v39h-4zM2290 1256h4v11h-4zM2299 1243h4v39h-4zM2320 1082h4v28h-4zM2324 1110h4v8h-4zM2337 1052h4v2h-4zM2341 1032h4v43h-4zM2367 887h4v17h-4zM2375 787h4v2h-4zM2379 808h4v32h-4zM2384 840h4v61h-4zM2388 900h4v33h-4zM2392 969h4v146h-4zM2397 1113h4v100h-4zM2401 1213h4v40h-4zM2414 1122h4v11h-4zM2418 1112h4v53h-4zM2426 1105h4v12h-4zM2439 1086h4v20h-4zM2443 1127h4v53h-4zM2448 1179h4v2h-4zM2452 1180h4v17h-4zM2456 1303h4v60h-4zM2465 1316h4v2h-4zM2473 1268h4v65h-4zM2482 1307h4v61h-4zM2494 1276h4v38h-4zM2499 1314h4v65h-4zM2503 1378h4v19h-4zM2511 1403h4v10h-4zM2520 1551h4v19h-4zM2524 1569h4v117h-4zM2529 1686h4v14h-4zM2537 1605h4v199h-4zM2541 1804h4v7h-4zM2546 1789h4v12h-4zM2554 1616h4v20h-4zM2558 1652h4v31h-4zM2567 1621h4v2h-4zM2571 1621h4v25h-4zM2580 1639h4v20h-4z"/>
<line x1="0" y1="1658" x2="3724" y2="1658" stroke="#eb4d5c" stroke-width="2" stroke-dasharray="2 4"/>
<line x1="137" y1="0" x2="137" y2="2018" stroke="#8a8a8a" stroke-width="2" stroke-dasharray="10 12"/>
<line x1="0" y1="912" x2="3682" y2="912" stroke="#8a8a8a" stroke-width="2" stroke-dasharray="10 12"/>
<g shape-rendering="auto">
<circle cx="2582" cy="1993" r="19.5" fill="#fff" stroke="#9c27b0" stroke-width="3"/>
<polygon points="2587.4,1981.9 2588.9,1983.4 2582.7,1992.0 2590.2,1992.0 2590.0,1992.7 2577.3,2003.7 2575.4,2002.6 2581.0,1994.0 2573.7,1994.0 2573.9,1993.1" fill="#9c27b0"/>
</g>
<rect x="117" y="912" width="39" height="4" fill="#000"/>
<rect x="134" y="895" width="4" height="39" fill="#000"/>
<g fill="#131722" shape-rendering="auto"><polygon points="24,1960.2 47.7,1960.2 47.7,1990 35.9,1990 35.9,1971.8 24,1971.8"/><circle cx="58.3" cy="1965.6" r="6.1"/><polygon points="70.1,1960.2 83.5,1960.2 71.4,1990 57.9,1990"/></g>
<rect x="0" y="2018" width="3840" height="2" fill="#4b4b4b"/>
<rect x="3724" y="0" width="2" height="2074" fill="#4b4b4b"/>
<rect x="0" y="2074" width="3840" height="2" fill="#e0e3eb"/>
<g shape-rendering="auto">
<text x="3740.40" y="1970.70" font-size="24" fill="#555555" font-weight="normal" text-anchor="start" textLength="66.00" lengthAdjust="spacingAndGlyphs">960,00</text><text x="3740.40" y="1898.15" font-size="24" fill="#555555" font-weight="normal" text-anchor="start" textLength="66.00" lengthAdjust="spacingAndGlyphs">970,00</text><text x="3740.40" y="1825.40" font-size="24" fill="#555555" font-weight="normal" text-anchor="start" textLength="66.00" lengthAdjust="spacingAndGlyphs">980,00</text><text x="3740.40" y="1752.64" font-size="24" fill="#555555" font-weight="normal" text-anchor="start" textLength="66.00" lengthAdjust="spacingAndGlyphs">990,00</text><text x="3741.60" y="1679.91" font-size="24" fill="#555555" font-weight="normal" text-anchor="start" textLength="79.40" lengthAdjust="spacingAndGlyphs">1 000,00</text><text x="3741.60" y="1607.34" font-size="24" fill="#555555" font-weight="normal" text-anchor="start" textLength="79.40" lengthAdjust="spacingAndGlyphs">1 010,00</text><text x="3741.60" y="1534.58" font-size="24" fill="#555555" font-weight="normal" text-anchor="start" textLength="79.40" lengthAdjust="spacingAndGlyphs">1 020,00</text><text x="3741.60" y="1462.82" font-size="24" fill="#555555" font-weight="normal" text-anchor="start" textLength="79.40" lengthAdjust="spacingAndGlyphs">1 030,00</text><text x="3741.60" y="1390.28" font-size="24" fill="#555555" font-weight="normal" text-anchor="start" textLength="79.40" lengthAdjust="spacingAndGlyphs">1 040,00</text><text x="3741.60" y="1317.52" font-size="24" fill="#555555" font-weight="normal" text-anchor="start" textLength="79.40" lengthAdjust="spacingAndGlyphs">1 050,00</text><text x="3741.60" y="1244.76" font-size="24" fill="#555555" font-weight="normal" text-anchor="start" textLength="79.40" lengthAdjust="spacingAndGlyphs">1 060,00</text><text x="3741.60" y="1172.21" font-size="24" fill="#555555" font-weight="normal" text-anchor="start" textLength="79.40" lengthAdjust="spacingAndGlyphs">1 070,00</text><text x="3741.60" y="1099.46" font-size="24" fill="#555555" font-weight="normal" text-anchor="start" textLength="79.40" lengthAdjust="spacingAndGlyphs">1 080,00</text><text x="3741.60" y="1026.70" font-size="24" fill="#555555" font-weight="normal" text-anchor="start" textLength="79.40" lengthAdjust="spacingAndGlyphs">1 090,00</text><text x="3741.60" y="953.94" font-size="24" fill="#555555" font-weight="normal" text-anchor="start" textLength="79.40" lengthAdjust="spacingAndGlyphs">1 100,00</text><text x="3741.60" y="881.40" font-size="24" fill="#555555" font-weight="normal" text-anchor="start" textLength="80.40" lengthAdjust="spacingAndGlyphs">1 110,00</text><text x="3741.60" y="809.64" font-size="24" fill="#555555" font-weight="normal" text-anchor="start" textLength="79.40" lengthAdjust="spacingAndGlyphs">1 120,00</text><text x="3741.60" y="736.88" font-size="24" fill="#555555" font-weight="normal" text-anchor="start" textLength="79.40" lengthAdjust="spacingAndGlyphs">1 130,00</text><text x="3741.60" y="664.34" font-size="24" fill="#555555" font-weight="normal" text-anchor="start" textLength="79.40" lengthAdjust="spacingAndGlyphs">1 140,00</text><text x="3741.60" y="591.58" font-size="24" fill="#555555" font-weight="normal" text-anchor="start" textLength="79.40" lengthAdjust="spacingAndGlyphs">1 150,00</text><text x="3741.60" y="518.82" font-size="24" fill="#555555" font-weight="normal" text-anchor="start" textLength="79.40" lengthAdjust="spacingAndGlyphs">1 160,00</text><text x="3741.60" y="446.06" font-size="24" fill="#555555" font-weight="normal" text-anchor="start" textLength="79.40" lengthAdjust="spacingAndGlyphs">1 170,00</text><text x="3741.60" y="373.52" font-size="24" fill="#555555" font-weight="normal" text-anchor="start" textLength="79.40" lengthAdjust="spacingAndGlyphs">1 180,00</text><text x="3741.60" y="300.76" font-size="24" fill="#555555" font-weight="normal" text-anchor="start" textLength="79.40" lengthAdjust="spacingAndGlyphs">1 190,00</text><text x="3741.60" y="229.00" font-size="24" fill="#555555" font-weight="normal" text-anchor="start" textLength="79.40" lengthAdjust="spacingAndGlyphs">1 200,00</text><text x="3741.60" y="156.46" font-size="24" fill="#555555" font-weight="normal" text-anchor="start" textLength="79.40" lengthAdjust="spacingAndGlyphs">1 210,00</text><text x="3741.60" y="83.70" font-size="24" fill="#555555" font-weight="normal" text-anchor="start" textLength="79.40" lengthAdjust="spacingAndGlyphs">1 220,00</text><circle cx="35.95" cy="31.95" r="17.65" fill="#e0e3eb"/><text x="28.70" y="39.20" font-size="22" fill="#ffffff" font-weight="bold" text-anchor="start" textLength="15.60" lengthAdjust="spacingAndGlyphs">R</text><text x="60.00" y="42.80" font-size="32" fill="#4b4b4b" font-weight="normal" text-anchor="start" textLength="109.50" lengthAdjust="spacingAndGlyphs">Индекс</text><text x="178.40" y="42.80" font-size="32" fill="#4b4b4b" font-weight="normal" text-anchor="start" textLength="57.40" lengthAdjust="spacingAndGlyphs">РТС</text><text x="240.10" y="43.90" font-size="40" fill="#131722" font-weight="normal" text-anchor="start">·</text><text x="259.20" y="42.60" font-size="32" fill="#4b4b4b" font-weight="normal" text-anchor="start" textLength="34.60" lengthAdjust="spacingAndGlyphs">4ч</text><text x="298.00" y="43.90" font-size="40" fill="#131722" font-weight="normal" text-anchor="start">·</text><text x="318.50" y="42.80" font-size="32" fill="#4b4b4b" font-weight="normal" text-anchor="start" textLength="75.90" lengthAdjust="spacingAndGlyphs">ALOR</text><path d="M463 14 H441 A18 18 0 0 0 441 50 H463 Z" fill="#eef0f3"/><path d="M463 14 H485 A18 18 0 0 1 485 50 H463 Z" fill="#f2b6cc"/><rect x="434.8" y="28.3" width="20" height="7.6" rx="3.8" fill="#9598a1"/><text x="471.20" y="41.50" font-size="30" fill="#e91e63" font-weight="bold" text-anchor="start" textLength="19.50" lengthAdjust="spacingAndGlyphs">≈</text><text x="534.30" y="39.60" font-size="26" fill="#4b4b4b" font-weight="normal" text-anchor="start" textLength="64.00" lengthAdjust="spacingAndGlyphs">ОТКР</text><text x="600.50" y="39.60" font-size="26" fill="#53b987" font-weight="normal" text-anchor="start" textLength="95.60" lengthAdjust="spacingAndGlyphs">1 128,64</text><text x="707.60" y="39.60" font-size="26" fill="#4b4b4b" font-weight="normal" text-anchor="start" textLength="66.80" lengthAdjust="spacingAndGlyphs">МАКС</text><text x="776.50" y="39.60" font-size="26" fill="#53b987" font-weight="normal" text-anchor="start" textLength="94.10" lengthAdjust="spacingAndGlyphs">1 134,79</text><text x="881.10" y="39.60" font-size="26" fill="#4b4b4b" font-weight="normal" text-anchor="start" textLength="57.60" lengthAdjust="spacingAndGlyphs">МИН</text><text x="936.10" y="39.60" font-size="26" fill="#53b987" font-weight="normal" text-anchor="start" textLength="97.90" lengthAdjust="spacingAndGlyphs">1 125,65</text><text x="1046.00" y="39.60" font-size="26" fill="#4b4b4b" font-weight="normal" text-anchor="start" textLength="60.60" lengthAdjust="spacingAndGlyphs">ЗАКР</text><text x="1108.50" y="39.60" font-size="26" fill="#53b987" font-weight="normal" text-anchor="start" textLength="94.70" lengthAdjust="spacingAndGlyphs">1 133,22</text><text x="1215.70" y="40.60" font-size="26" fill="#53b987" font-weight="normal" text-anchor="start" textLength="171.20" lengthAdjust="spacingAndGlyphs">+4,58 (+0,41%)</text><rect x="17.1" y="65.6" width="142.6" height="65" rx="9" fill="#fff" stroke="#f23645" stroke-width="2"/><rect x="233.3" y="65.6" width="138" height="65" rx="9" fill="#fff" stroke="#2962ff" stroke-width="2"/><text x="41.10" y="95.70" font-size="23" fill="#f23645" font-weight="bold" text-anchor="start" textLength="95.60" lengthAdjust="spacingAndGlyphs">1 002,12</text><text x="37.30" y="122.00" font-size="20.4" fill="#f23645" font-weight="normal" text-anchor="start" textLength="102.00" lengthAdjust="spacingAndGlyphs">ПРОДАТЬ</text><text x="176.80" y="104.00" font-size="19" fill="#131722" font-weight="normal" text-anchor="start" textLength="39.60" lengthAdjust="spacingAndGlyphs">0,00</text><text x="254.90" y="95.70" font-size="23" fill="#2962ff" font-weight="bold" text-anchor="start" textLength="96.10" lengthAdjust="spacingAndGlyphs">1 002,12</text><text x="258.60" y="122.00" font-size="20.4" fill="#2962ff" font-weight="normal" text-anchor="start" textLength="86.20" lengthAdjust="spacingAndGlyphs">КУПИТЬ</text><text x="98.10" y="1990.50" font-size="41.6" fill="#131722" font-weight="bold" text-anchor="start" textLength="241.50" lengthAdjust="spacingAndGlyphs">TradingView</text><rect x="3727" y="0" width="113" height="67.4" fill="#fff"/><rect x="3733.4" y="9.4" width="97.1" height="49" rx="8" fill="#fff" stroke="#e0e3eb" stroke-width="2"/><text x="3739.60" y="40.70" font-size="22.5" fill="#131722" font-weight="normal" text-anchor="start" textLength="39.00" lengthAdjust="spacingAndGlyphs">USD</text><polyline points="3812.3,30.8 3817.2,35.8 3822.1,30.8" fill="none" stroke="#131722" stroke-width="2.2" stroke-linecap="round" stroke-linejoin="round"/><path d="M3686 892 H3722 V932 H3686 A4 4 0 0 1 3682 928 V896 A4 4 0 0 1 3686 892 Z" fill="#131722"/><circle cx="3701.9" cy="912" r="13" fill="none" stroke="#fff" stroke-width="2"/><rect x="3694.9" y="911" width="14" height="2" fill="#fff"/><rect x="3700.9" y="905" width="2" height="14" fill="#fff"/><path d="M3724 892 H3829 A4 4 0 0 1 3833 896 V928 A4 4 0 0 1 3829 932 H3724 Z" fill="#131722"/><text x="3741.60" y="919.30" font-size="23.5" fill="#ffffff" font-weight="normal" text-anchor="start" textLength="79.90" lengthAdjust="spacingAndGlyphs" stroke="#fff" stroke-width="0.5">1 104,83</text><path d="M3724 1642 H3829 A4 4 0 0 1 3833 1646 V1670 A4 4 0 0 1 3829 1674 H3724 Z" fill="#eb4d5c"/><text x="3741.60" y="1665.00" font-size="23" fill="#ffffff" font-weight="normal" text-anchor="start" textLength="80.20" lengthAdjust="spacingAndGlyphs" stroke="#fff" stroke-width="0.4">1 002,12</text><text x="-16.70" y="2052.70" font-size="23" fill="#4b4b4b" font-weight="normal" text-anchor="start" textLength="43.10" lengthAdjust="spacingAndGlyphs">Ноя</text><text x="266.90" y="2053.80" font-size="23" fill="#4b4b4b" font-weight="normal" text-anchor="start" textLength="38.80" lengthAdjust="spacingAndGlyphs">Дек</text><text x="802.50" y="2053.80" font-size="23" fill="#4b4b4b" font-weight="normal" text-anchor="start" textLength="40.80" lengthAdjust="spacingAndGlyphs">Фев</text><text x="1057.70" y="2053.80" font-size="23" fill="#4b4b4b" font-weight="normal" text-anchor="start" textLength="40.80" lengthAdjust="spacingAndGlyphs">Мар</text><text x="1315.90" y="2053.80" font-size="23" fill="#4b4b4b" font-weight="normal" text-anchor="start" textLength="37.60" lengthAdjust="spacingAndGlyphs">Апр</text><text x="1607.50" y="2052.70" font-size="23" fill="#4b4b4b" font-weight="normal" text-anchor="start" textLength="42.00" lengthAdjust="spacingAndGlyphs">Май</text><text x="1875.10" y="2053.80" font-size="23" fill="#4b4b4b" font-weight="normal" text-anchor="start" textLength="44.80" lengthAdjust="spacingAndGlyphs">Июн</text><text x="2116.30" y="2053.80" font-size="23" fill="#4b4b4b" font-weight="normal" text-anchor="start" textLength="44.80" lengthAdjust="spacingAndGlyphs">Июл</text><text x="2416.10" y="2053.80" font-size="23" fill="#4b4b4b" font-weight="normal" text-anchor="start" textLength="33.80" lengthAdjust="spacingAndGlyphs">Авг</text><text x="2695.50" y="2053.80" font-size="23" fill="#4b4b4b" font-weight="normal" text-anchor="start" textLength="38.00" lengthAdjust="spacingAndGlyphs">Сен</text><text x="2963.50" y="2053.80" font-size="23" fill="#4b4b4b" font-weight="normal" text-anchor="start" textLength="35.80" lengthAdjust="spacingAndGlyphs">Окт</text><text x="3255.50" y="2053.80" font-size="23" fill="#4b4b4b" font-weight="normal" text-anchor="start" textLength="40.20" lengthAdjust="spacingAndGlyphs">Ноя</text><text x="3524.50" y="2053.80" font-size="23" fill="#4b4b4b" font-weight="normal" text-anchor="start" textLength="32.40" lengthAdjust="spacingAndGlyphs">Дек</text><text x="529.30" y="2053.80" font-size="23" fill="#4b4b4b" font-weight="bold" text-anchor="start" textLength="51.10" lengthAdjust="spacingAndGlyphs">2024</text><path d="M19.3 2018.5 H255.8 V2059.5 A4 4 0 0 1 251.8 2063.5 H23.3 A4 4 0 0 1 19.3 2059.5 Z" fill="#131722"/><text x="33.60" y="2052.70" font-size="23" fill="#ffffff" font-weight="normal" text-anchor="start" textLength="132.50" lengthAdjust="spacingAndGlyphs" stroke="#fff" stroke-width="0.4">ср 15 Ноя '23</text><text x="184.40" y="2053.80" font-size="23" fill="#ffffff" font-weight="normal" text-anchor="start" textLength="56.80" lengthAdjust="spacingAndGlyphs" stroke="#fff" stroke-width="0.4">14:00</text><polygon points="3769.2,2046.8 3775.8,2035.1 3790.0,2035.1 3796.6,2046.8 3790.0,2058.5 3775.8,2058.5" fill="none" stroke="#131722" stroke-width="2" stroke-linejoin="round"/><circle cx="3782.9" cy="2046.8" r="3.8" fill="none" stroke="#131722" stroke-width="2"/>

</g>
</svg>
</body></html>
